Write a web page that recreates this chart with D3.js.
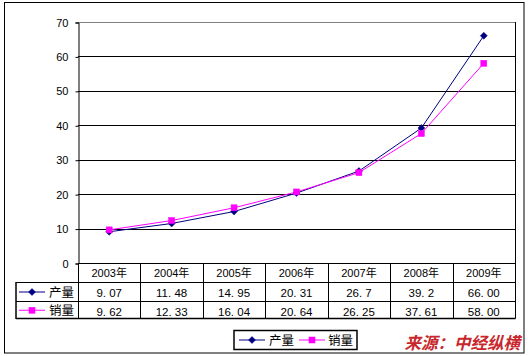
<!DOCTYPE html>
<html><head><meta charset="utf-8">
<script src="https://cdn.jsdelivr.net/npm/d3@7"></script>
<style>
html,body{margin:0;padding:0;background:#fff;}
svg{display:block;}
text{font-family:"Liberation Sans",Arial,"Noto Sans CJK SC",sans-serif;}
</style></head>
<body>
<svg id="c" width="528" height="356"></svg>
<script>
const years = ["2003年","2004年","2005年","2006年","2007年","2008年","2009年"];
const seriesNames = ["产量","销量"];
const output = [9.07, 11.48, 14.95, 20.31, 26.7, 39.2, 66.00];
const sales = [9.62, 12.33, 16.04, 20.64, 26.25, 37.61, 58.00];
const outputLabels = ["9. 07","11. 48","14. 95","20. 31","26. 7","39. 2","66. 00"];
const salesLabels = ["9. 62","12. 33","16. 04","20. 64","26. 25","37. 61","58. 00"];
const yTicks = [0,10,20,30,40,50,60,70];
const sourceText = "来源：中经纵横";

const colors = ["#000080","#FF00FF"];
const series = [output, sales];
const labels = [outputLabels, salesLabels];

const svg = d3.select("#c");
const L = 78, R = 515, T = 22, B = 263;
const x = d3.scaleBand().domain(years).range([L, R]);
const y = d3.scaleLinear().domain([0,70]).range([B, T]);
const cx = d => x(d) + x.bandwidth()/2;

// outer chart border
svg.append("rect").attr("x",4.5).attr("y",2.5).attr("width",519.5).attr("height",350.5)
  .attr("fill","#fff").attr("stroke","#000").attr("stroke-width",1);

// gridlines
svg.append("g").selectAll("line").data(yTicks.filter(t=>t>0 && t<70)).join("line")
  .attr("x1",L).attr("x2",R).attr("y1",d=>Math.round(y(d))+0.5).attr("y2",d=>Math.round(y(d))+0.5)
  .attr("stroke","#000").attr("stroke-width",1);
// plot area border top/right grey
svg.append("path").attr("d",`M${L},${Math.round(y(70))+0.5}H${R+0.5}V${B}`)
  .attr("fill","none").attr("stroke","#808080").attr("stroke-width",1);

// y axis
const yAxis = d3.axisLeft(y).tickValues(yTicks).tickSize(3).tickPadding(7).tickFormat(d3.format("d"));
const ga = svg.append("g").attr("transform",`translate(${L+0.5},0.5)`).call(yAxis);
ga.select(".domain").attr("stroke","#000");
ga.selectAll(".tick line").attr("stroke","#000");
ga.selectAll(".tick text").attr("font-size",11).attr("fill","#000")
  .attr("font-family",'"Liberation Sans",Arial,sans-serif');

// data table
const rowY = [263, 282, 301, 318.5];
const tg = svg.append("g").attr("stroke","#000").attr("stroke-width",1).attr("fill","none");
// horizontal lines
tg.append("line").attr("x1",L).attr("x2",R+0.5).attr("y1",rowY[0]+0.5).attr("y2",rowY[0]+0.5);
tg.append("line").attr("x1",16).attr("x2",R+0.5).attr("y1",rowY[1]+0.5).attr("y2",rowY[1]+0.5);
tg.append("line").attr("x1",16).attr("x2",R+0.5).attr("y1",rowY[2]+0.5).attr("y2",rowY[2]+0.5);
tg.append("line").attr("x1",16).attr("x2",R+0.5).attr("y1",rowY[3]).attr("y2",rowY[3]).attr("stroke-width",1.5);
// vertical lines
tg.append("line").attr("x1",16).attr("x2",16).attr("y1",rowY[1]).attr("y2",rowY[3]+0.5).attr("stroke-width",1.5);
tg.selectAll("line.v").data(years.concat(["end"])).join("line").attr("class","v")
  .attr("x1",(d,i)=>Math.round(i<years.length?x(d):R)+0.5)
  .attr("x2",(d,i)=>Math.round(i<years.length?x(d):R)+0.5)
  .attr("y1",(d,i)=> i===years.length ? T : rowY[0]).attr("y2",rowY[3]);

// header text
svg.append("g").selectAll("text").data(years).join("text")
  .attr("x",d=>cx(d)).attr("y",277).attr("text-anchor","middle")
  .attr("font-size",11).attr("fill","#000")
  .attr("font-family",'"Liberation Sans","Noto Sans CJK SC",sans-serif').text(d=>d);
// values
labels.forEach((lab,si)=>{
  svg.append("g").selectAll("text").data(lab).join("text")
    .attr("x",(d,i)=>cx(years[i])).attr("y",rowY[si+1]+14.5).attr("text-anchor","middle")
    .attr("font-size",11.5).attr("fill","#000")
    .attr("font-family",'"Liberation Sans",Arial,sans-serif').text(d=>d);
});

function marker(g, si, px, py){
  if(si===0){
    g.append("path").attr("d",`M${px},${py-3.5}L${px+3.5},${py}L${px},${py+3.5}L${px-3.5},${py}Z`)
      .attr("fill",colors[0]).attr("stroke",colors[0]).attr("stroke-width",0.5);
  } else {
    g.append("rect").attr("x",px-3).attr("y",py-3).attr("width",6).attr("height",6)
      .attr("fill",colors[1]).attr("stroke",colors[1]).attr("stroke-width",0.5);
  }
}
function legendKey(g, si, x0, x1, py, tx, name){
  g.append("line").attr("x1",x0).attr("x2",x1).attr("y1",py).attr("y2",py)
    .attr("stroke",colors[si]).attr("stroke-width",1);
  marker(g, si, (x0+x1)/2, py);
  g.append("text").attr("x",tx).attr("y",py+4.5).attr("font-size",12.5).attr("fill","#000")
    .attr("font-family",'"Noto Sans CJK SC",sans-serif').text(name);
}
// table legend keys
seriesNames.forEach((n,si)=>{
  const py = (rowY[si+1]+rowY[si+2])/2 + 0.5;
  legendKey(svg.append("g"), si, 19, 45, py, 49, n);
});

// lines
const line = d3.line().x((d,i)=>cx(years[i])).y(d=>y(d));
series.forEach((s,si)=>{
  svg.append("path").datum(s).attr("d",line).attr("fill","none")
    .attr("stroke",colors[si]).attr("stroke-width",1);
});
series.forEach((s,si)=>{
  const g = svg.append("g");
  s.forEach((v,i)=>marker(g, si, cx(years[i]), y(v)));
});

// legend box
const lg = svg.append("g");
lg.append("rect").attr("x",234).attr("y",330.5).attr("width",123).attr("height",19)
  .attr("fill","#fff").attr("stroke","#000").attr("stroke-width",1.5);
legendKey(lg, 0, 239, 265, 340, 269, seriesNames[0]);
legendKey(lg, 1, 299, 325, 340, 328, seriesNames[1]);

// source
svg.append("text").attr("x",520).attr("y",349).attr("text-anchor","end")
  .attr("font-size",16.5).attr("font-weight","bold").attr("font-style","italic")
  .attr("fill","#C8282D").attr("font-family",'"Noto Sans CJK SC",sans-serif').text(sourceText);
</script>
</body></html>
